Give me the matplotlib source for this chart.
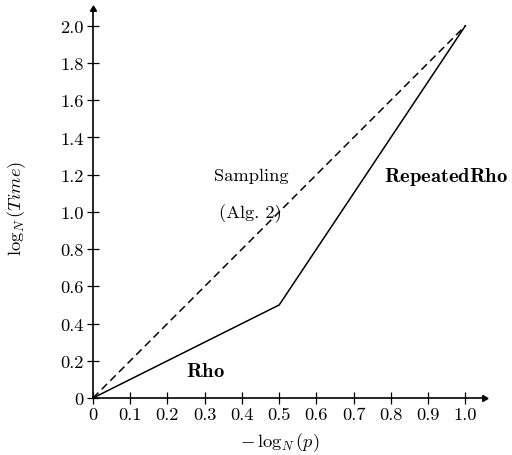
import matplotlib
matplotlib.use("Agg")
import matplotlib.pyplot as plt

plt.rcParams['font.family'] = 'serif'
plt.rcParams['font.serif'] = ['cmr10', 'DejaVu Serif']
plt.rcParams['mathtext.fontset'] = 'cm'
plt.rcParams['axes.unicode_minus'] = False

# data
rho_x = [0, 0.5, 1.0]
rho_y = [0, 0.5, 2.0]
samp_x = [0, 1.0]
samp_y = [0, 2.0]
xticks = [0, 0.1, 0.2, 0.3, 0.4, 0.5, 0.6, 0.7, 0.8, 0.9, 1.0]
xticklabels = ['0', '0.1', '0.2', '0.3', '0.4', '0.5', '0.6', '0.7', '0.8', '0.9', '1.0']
yticks = [0, 0.2, 0.4, 0.6, 0.8, 1.0, 1.2, 1.4, 1.6, 1.8, 2.0]
yticklabels = ['0', '0.2', '0.4', '0.6', '0.8', '1.0', '1.2', '1.4', '1.6', '1.8', '2.0']

fs = 13.3
fig = plt.figure(figsize=(5.12, 4.56), dpi=100)
ax = fig.add_axes([93/512, 57/456, 391/512, 389/456])

ax.plot(rho_x, rho_y, color='black', lw=1.1)
ax.plot(samp_x, samp_y, color='black', lw=1.1, ls=(0, (5, 3)))

ax.set_xlim(0, 1.05)
ax.set_ylim(0, 2.09)
ax.set_xticks(xticks)
ax.set_xticklabels(xticklabels)
ax.set_yticks(yticks)
ax.set_yticklabels(yticklabels)
ax.tick_params(direction='inout', length=9, width=0.9, labelsize=fs, pad=2)

for s in ['top', 'right']:
    ax.spines[s].set_visible(False)
for s in ['left', 'bottom']:
    ax.spines[s].set_linewidth(1.2)

# arrow heads on axes
ax.plot(1, 0, marker=(3, 0, -90), color='black', ms=5, transform=ax.transAxes, clip_on=False)
ax.plot(0, 1, marker=(3, 0, 0), color='black', ms=5, transform=ax.transAxes, clip_on=False)

ax.text(0.425, 1.172, 'Sampling', ha='center', va='baseline', fontsize=fs)
ax.text(0.422, 0.973, '(Alg. 2)', ha='center', va='baseline', fontsize=fs)
ax.text(0.949, 1.167, r'$\mathbf{RepeatedRho}$', ha='center', va='baseline', fontsize=14.8)
ax.text(0.301, 0.118, r'$\mathbf{Rho}$', ha='center', va='baseline', fontsize=14.8)

ax.set_xlabel(r'$-\,\log_N(p)$', fontsize=fs)
ax.set_ylabel(r'$\log_N(Time)$', fontsize=fs)
ax.xaxis.set_label_coords(0.478, -0.084)
ax.yaxis.set_label_coords(-0.166, 0.49)

fig.savefig('out.png', dpi=100)
